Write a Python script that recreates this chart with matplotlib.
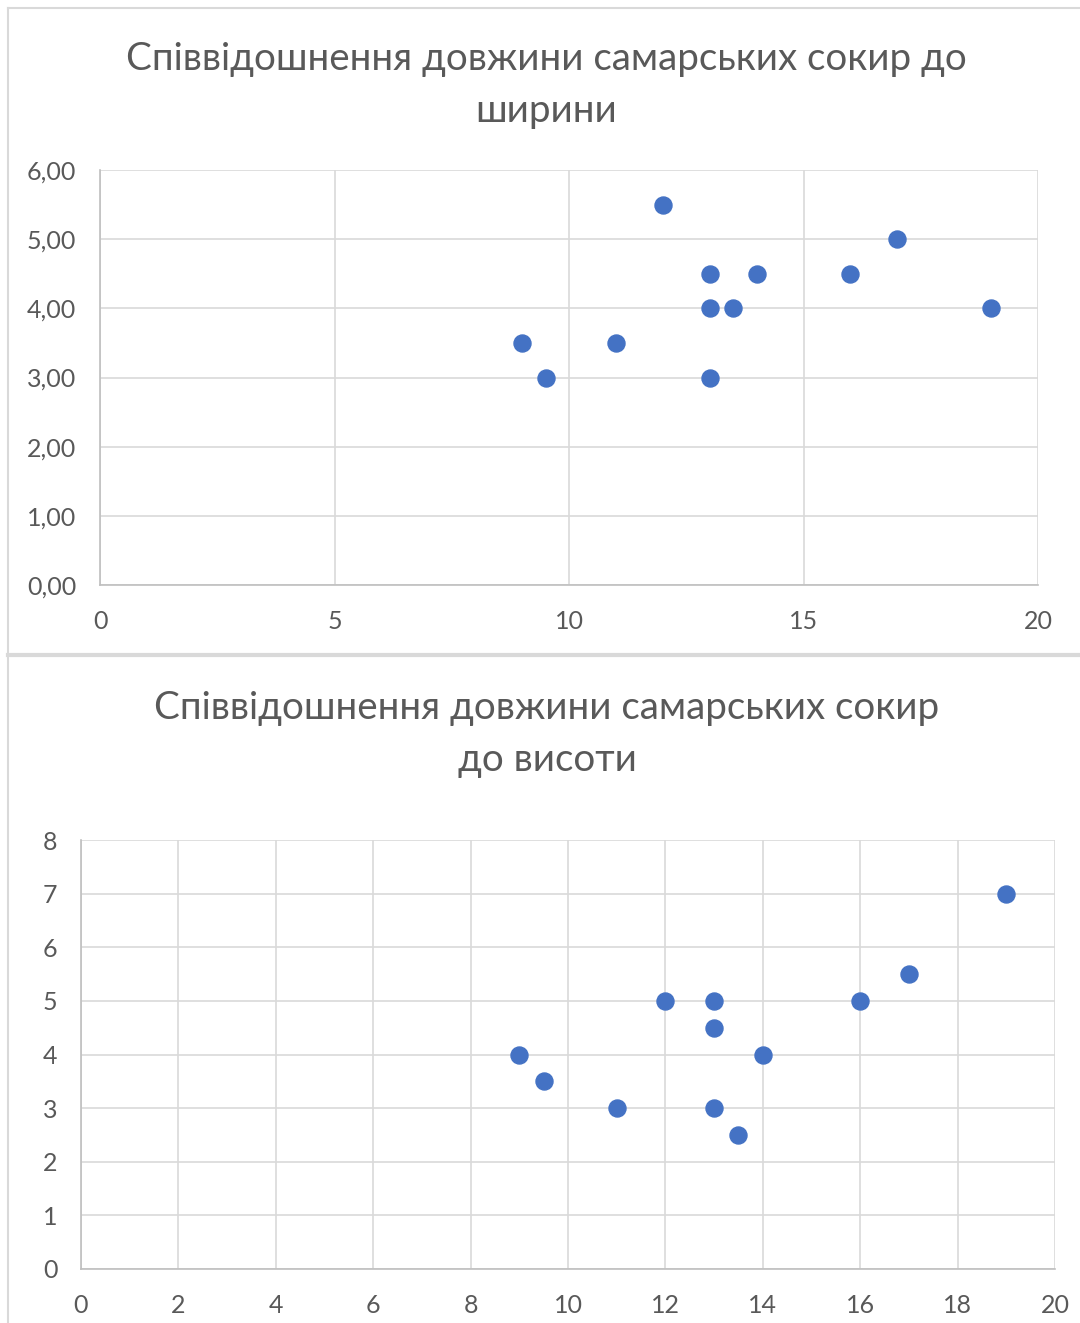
import numpy as np
import matplotlib
matplotlib.use("Agg")
import matplotlib.pyplot as plt
from matplotlib.lines import Line2D

plt.rcParams['font.family'] = ['Lato', 'Open Sans', 'DejaVu Sans']

# Data
length = [9, 9.5, 11, 12, 13, 13, 13, 13.5, 14, 16, 17, 19]
ratio_width = [3.5, 3.0, 3.5, 5.5, 4.5, 4.0, 3.0, 4.0, 4.5, 4.5, 5.0, 4.0]

length2 = [9, 9.5, 11, 12, 13, 13, 13, 13.5, 14, 16, 17, 19]
ratio_height = [4, 3.5, 3, 5, 5, 4.5, 3, 2.5, 4, 5, 5.5, 7]

title_top = "Співвідошнення довжини самарських сокир до\nширини"
title_bottom = "Співвідошнення довжини самарських сокир\nдо висоти"

W, H = 1080, 1323
BLUE = "#4472C4"
GRID = "#D9D9D9"
TXT = "#595959"

fig = plt.figure(figsize=(W / 100, H / 100), dpi=100)


def px_box(x0, y0, x1, y1):
    # pixel box (top-left origin) -> figure fraction rect
    return [x0 / W, 1 - y1 / H, (x1 - x0) / W, (y1 - y0) / H]


def style_axes(ax):
    for side in ['top', 'right']:
        ax.spines[side].set_visible(False)
    for side in ['left', 'bottom']:
        ax.spines[side].set_color("#BFBFBF")
        ax.spines[side].set_linewidth(1.2)
    ax.grid(True, color=GRID, linewidth=1.2)
    ax.set_axisbelow(True)
    ax.tick_params(length=0, labelsize=18, colors=TXT)
    ax.tick_params(axis='y', pad=17)
    ax.tick_params(axis='x', pad=18)


# top chart
ax1 = fig.add_axes(px_box(100, 170, 1038, 585))
ax1.scatter(length, ratio_width, s=150, color=BLUE, zorder=3, clip_on=False)
ax1.set_xlim(0, 20)
ax1.set_ylim(0, 6)
ax1.set_xticks(np.arange(0, 21, 5))
ax1.set_yticks(np.arange(0, 7, 1))
ax1.set_yticklabels([f"{v:.2f}".replace('.', ',') for v in np.arange(0, 7, 1)])
style_axes(ax1)

# bottom chart
ax2 = fig.add_axes(px_box(81, 840, 1055, 1269))
ax2.scatter(length2, ratio_height, s=150, color=BLUE, zorder=3, clip_on=False)
ax2.set_xlim(0, 20)
ax2.set_ylim(0, 8)
ax2.set_xticks(np.arange(0, 21, 2))
ax2.set_yticks(np.arange(0, 9, 1))
style_axes(ax2)

fig.text(546 / W, 1 - 85 / H, title_top, ha='center', va='center',
         fontsize=27.7, color=TXT, linespacing=1.55)
fig.text(547 / W, 1 - 734 / H, title_bottom, ha='center', va='center',
         fontsize=27.7, color=TXT, linespacing=1.55)

# chart frames
fig.add_artist(Line2D([8 / W, 8 / W], [0, 1 - 8 / H], color=GRID, lw=1.5))
fig.add_artist(Line2D([8 / W, 1], [1 - 8 / H, 1 - 8 / H], color=GRID, lw=1.5))
fig.add_artist(Line2D([8 / W, 1], [1 - 655 / H, 1 - 655 / H], color=GRID, lw=3))

fig.savefig("out.png", dpi=100)
